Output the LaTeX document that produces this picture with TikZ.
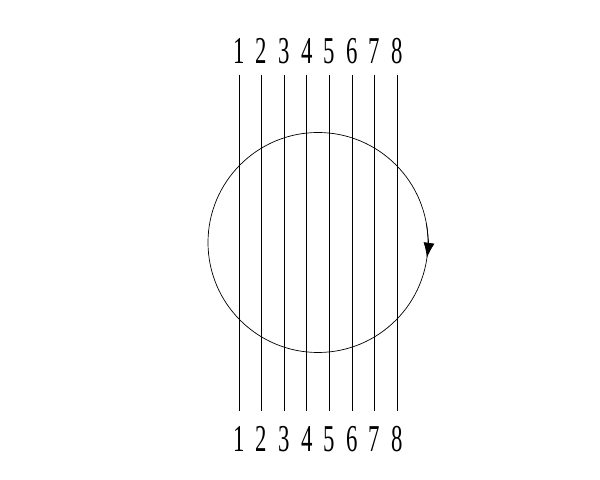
\documentclass[tikz,border=0pt]{standalone}
\usepackage{fontspec}
\setmainfont{Liberation Serif}
\usetikzlibrary{arrows.meta,positioning}

\begin{document}
\begin{tikzpicture}[x=0.025cm,y=0.025cm,line width=0.5pt,
	num/.style={inner sep=0pt,xscale=0.6,font=\fontsize{27}{27}\selectfont}]
	\useasboundingbox (0,0) rectangle (600,480);
	\foreach \i [count=\n] in {1,...,8}
		\node[num](T\n) at ({239+22.6*(\n-1)},429){\i};
	\foreach \i [count=\n] in {1,...,8}
		\node[num](B\n) at ({239+22.6*(\n-1)},41){\i};
	\foreach \n in {1,...,8}
		\draw [shorten <=0.27cm,shorten >=0.38cm] (T\n.south) -- (B\n.north);
	\coordinate (C) at (318,237.5);
	\draw (C) circle [radius=110];
	\draw [-{Latex[length=0.375cm,width=0.275cm]}] (C) ++(10:110) arc (10:-8:110);
\end{tikzpicture}
\end{document}
